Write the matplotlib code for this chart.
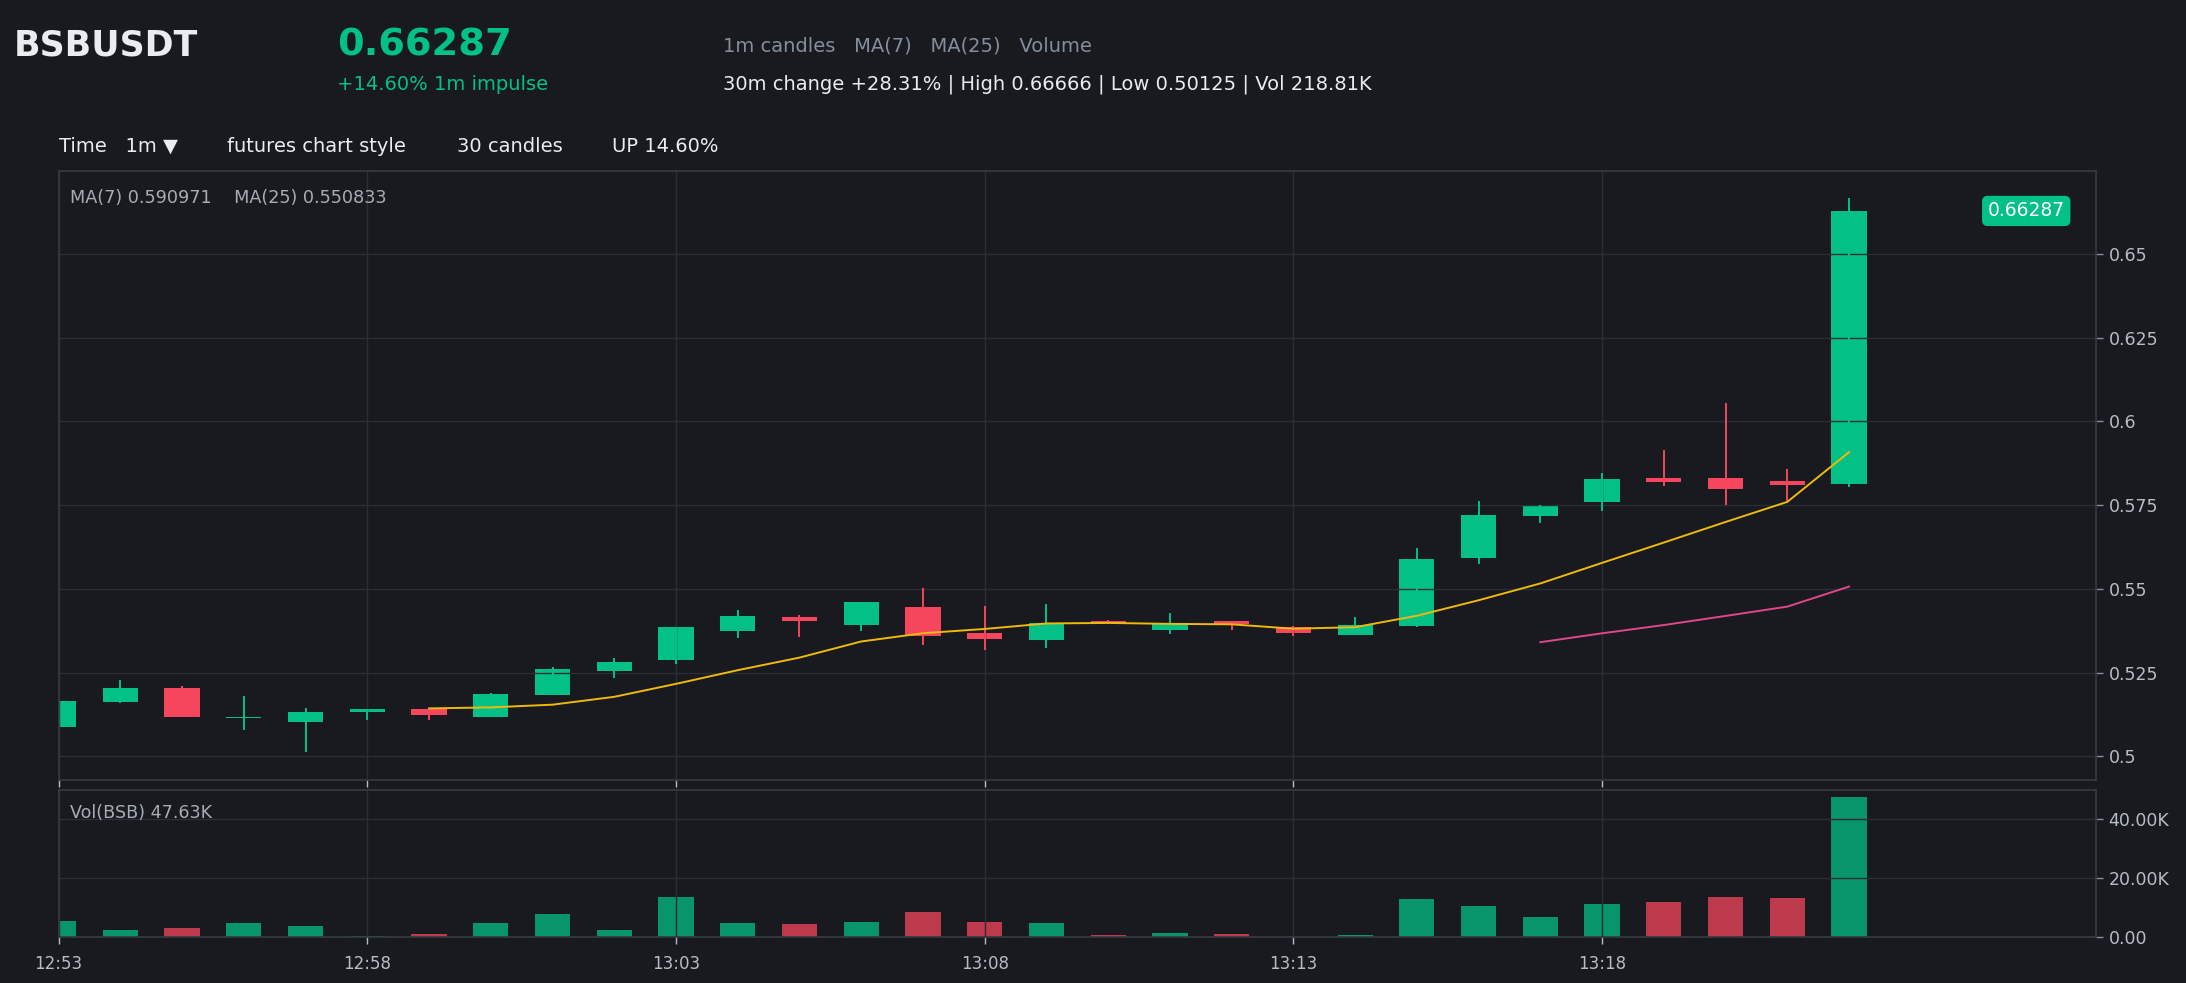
import matplotlib
matplotlib.use('Agg')
import matplotlib.pyplot as plt
import numpy as np
import pandas as pd
from matplotlib.ticker import FuncFormatter, MultipleLocator

# 1m candles, BSBUSDT
times = ['12:53', '12:54', '12:55', '12:56', '12:57', '12:58', '12:59', '13:00',
         '13:01', '13:02', '13:03', '13:04', '13:05', '13:06', '13:07', '13:08',
         '13:09', '13:10', '13:11', '13:12', '13:13', '13:14', '13:15', '13:16',
         '13:17', '13:18', '13:19', '13:20', '13:21', '13:22']
opens = [0.5088, 0.5163, 0.5204, 0.5113, 0.5103, 0.5131, 0.5141, 0.5118,
         0.5184, 0.5256, 0.5288, 0.5375, 0.5416, 0.5392, 0.5446, 0.5368,
         0.5347, 0.5404, 0.5377, 0.5404, 0.5387, 0.5362, 0.5389, 0.5593,
         0.5719, 0.5758, 0.5832, 0.5832, 0.5823, 0.5814]
highs = [0.5168, 0.5228, 0.5210, 0.5180, 0.5144, 0.5142, 0.5142, 0.5188,
         0.5268, 0.5294, 0.5387, 0.5437, 0.5422, 0.5462, 0.5503, 0.5449,
         0.5455, 0.5407, 0.5428, 0.5405, 0.5389, 0.5416, 0.5621, 0.5763,
         0.5751, 0.5846, 0.5915, 0.6055, 0.5858, 0.66666]
lows = [0.5085, 0.5160, 0.5118, 0.5079, 0.50125, 0.5108, 0.5108, 0.5116,
        0.5184, 0.5234, 0.5276, 0.5353, 0.5356, 0.5375, 0.5333, 0.5318,
        0.5324, 0.5394, 0.5365, 0.5377, 0.5359, 0.5362, 0.5387, 0.5575,
        0.5698, 0.5731, 0.5808, 0.5751, 0.5761, 0.5803]
closes = [0.5165, 0.5204, 0.5118, 0.5115, 0.5133, 0.5141, 0.5124, 0.5186,
          0.5261, 0.5282, 0.5386, 0.5419, 0.5404, 0.5461, 0.5359, 0.5350,
          0.5397, 0.5397, 0.5399, 0.5395, 0.5369, 0.5391, 0.5589, 0.5721,
          0.5749, 0.5829, 0.5820, 0.5799, 0.5811, 0.66287]
# volume in thousands
volumes = [5.2, 2.4, 2.8, 4.5, 3.5, 0.1, 1.0, 4.5, 7.7, 2.4, 13.6, 4.5,
           4.2, 4.9, 8.4, 4.9, 4.5, 0.7, 1.4, 1.0, 0.05, 0.7, 12.9, 10.4,
           6.6, 11.1, 11.8, 13.6, 13.2, 47.63]
ma_legend = 'MA(7) 0.590971    MA(25) 0.550833'

W, H = 2186, 983
BG = '#181a20'
UP = '#03c087'
DOWN = '#f6465d'
GRID = '#2a2e36'
SPINE = '#353a44'
MUTED = '#848e9c'
LIGHT = '#b7bdc6'
WHITE = '#eaecef'

plt.rcParams['font.family'] = ['DejaVu Sans']

fig = plt.figure(figsize=(W / 100, H / 100), dpi=100, facecolor=BG)
left, right = 58.6, 2096
ax = fig.add_axes([left / W, 1 - 780 / H, (right - left) / W, (780 - 171) / H])
axv = fig.add_axes([left / W, 1 - 936.7 / H, (right - left) / W, (936.7 - 790) / H],
                   sharex=ax)

x = np.arange(len(closes))
o = np.array(opens)
c = np.array(closes)
h = np.array(highs)
l = np.array(lows)
up = c >= o
cols = np.where(up, UP, DOWN)

body = np.maximum(np.abs(c - o), 0.0004)
ax.bar(x, body, bottom=np.minimum(o, c), width=0.57, color=cols, linewidth=0)
ax.vlines(x, l, h, colors=cols, linewidth=1.4)

ma7 = pd.Series(closes).rolling(7).mean()
ma25 = pd.Series(closes).rolling(25).mean()
ax.plot(x, ma7, color='#f0b90b', linewidth=1.4)
ax.plot(x, ma25, color='#e0468a', linewidth=1.4)

axv.bar(x, volumes, width=0.57, color=cols, alpha=0.75, linewidth=0)

for a in (ax, axv):
    a.set_facecolor(BG)
    for s in a.spines.values():
        s.set_color(SPINE)
        s.set_linewidth(1.2)
    a.grid(True, color=GRID, linewidth=1.0)
    a.yaxis.tick_right()
    a.tick_params(axis='y', colors=MUTED, labelcolor=LIGHT, labelsize=12.5,
                  length=5, width=1, pad=4)
    a.tick_params(axis='x', colors=LIGHT, labelcolor=LIGHT, labelsize=12,
                  length=5, width=1, pad=8)

ax.set_xlim(0, 33)
ax.set_xticks(x[::5])
ax.set_xticklabels(times[::5])
ax.tick_params(axis='x', labelbottom=False)

ax.set_ylim(0.4929, 0.6748)
ax.yaxis.set_major_locator(MultipleLocator(0.025))
ax.yaxis.set_major_formatter(FuncFormatter(lambda v, p: f'{v:g}'))

axv.set_ylim(0, 50)
axv.set_yticks([0, 20, 40])
axv.yaxis.set_major_formatter(FuncFormatter(lambda v, p: '0.00' if v == 0 else f'{v:.2f}K'))

# last price tag
ax.text(31.87, closes[-1], f'{closes[-1]:.5f}', ha='center', va='center',
        color='white', fontsize=13.5,
        bbox=dict(boxstyle='round,pad=0.3', fc=UP, ec='none'))

ax.text(0.0054, 0.956, ma_legend, transform=ax.transAxes, ha='left', va='center',
        color='#a7adb5', fontsize=12.7)
axv.text(0.0054, 0.845, f'Vol(BSB) {volumes[-1]:.2f}K', transform=axv.transAxes,
         ha='left', va='center', color='#a7adb5', fontsize=12.6)


def ftext(px, py, s, **kw):
    fig.text(px / W, 1 - py / H, s, va='center', ha='left', **kw)


ftext(14, 46, 'BSBUSDT', color=WHITE, fontsize=25, fontweight='bold')
ftext(337, 45, '0.66287', color=UP, fontsize=27.6, fontweight='bold')
ftext(337, 84, '+14.60% 1m impulse', color=UP, fontsize=14)
ftext(723, 46, '1m candles   MA(7)   MA(25)   Volume', color=MUTED, fontsize=14)
ftext(723, 84, '30m change +28.31% | High 0.66666 | Low 0.50125 | Vol 218.81K',
      color=WHITE, fontsize=14)
ftext(58.6, 146, 'Time   1m \u25bc', color=WHITE, fontsize=14)
ftext(227, 146, 'futures chart style', color=WHITE, fontsize=14)
ftext(457, 146, '30 candles', color=WHITE, fontsize=14)
ftext(612, 146, 'UP 14.60%', color=WHITE, fontsize=14)

fig.savefig('out.png', dpi=100, facecolor=BG)
